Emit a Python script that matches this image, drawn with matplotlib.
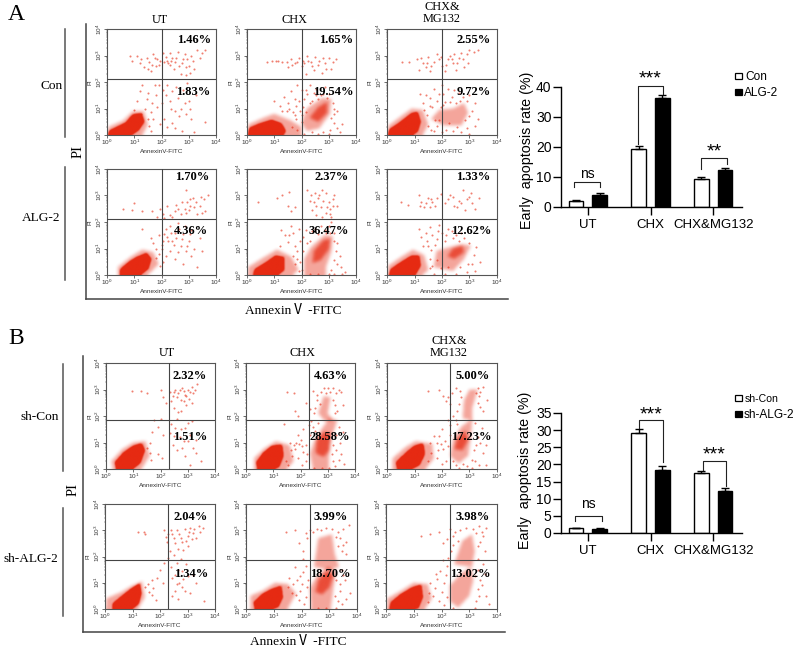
import numpy as np
import matplotlib
matplotlib.use("Agg")
import matplotlib.pyplot as plt
from matplotlib.colors import to_rgb
from matplotlib.lines import Line2D
from matplotlib.patches import Rectangle
from matplotlib.path import Path

plt.rcParams['mathtext.default'] = 'regular'
W, H = 798, 648
SERIF = ['Liberation Serif', 'Noto Sans CJK SC', 'DejaVu Sans']
SANS = ['Liberation Sans', 'DejaVu Sans']
RED = '#e62a12'

# bar chart values
groups = ['UT', 'CHX', 'CHX&MG132']
a_con = [2.0, 19.5, 9.4]
a_con_err = [0.4, 0.7, 0.6]
a_alg = [4.0, 36.3, 12.4]
a_alg_err = [0.6, 1.0, 0.5]
b_con = [1.4, 29.3, 17.5]
b_con_err = [0.2, 0.9, 0.7]
b_alg = [1.3, 18.3, 12.3]
b_alg_err = [0.2, 1.1, 0.7]

# percent labels, per row: UR and LR of UT, CHX, CHX&MG132
a_con_pct = ['1.46%', '1.83%', '1.65%', '19.54%', '2.55%', '9.72%']
a_alg_pct = ['1.70%', '4.36%', '2.37%', '36.47%', '1.33%', '12.62%']
b_con_pct = ['2.32%', '1.51%', '4.63%', '28.58%', '5.00%', '17.23%']
b_sh_pct = ['2.04%', '1.34%', '3.99%', '18.70%', '3.98%', '13.02%']

# flow cytometry, all in decades (log10 of the axis value), estimated by eye
# core = outline of the solid red cloud, haze = outlines of the thinner clouds
a_con_ut_core = [(0.05,0),(0.1,0.15),(0.4,0.3),(0.7,0.45),(0.95,0.75),(1.25,0.8),(1.35,0.5),(1.15,0.2),(0.9,0.02)]
a_con_ut_haze = [(0.02,0),(0.05,0.3),(0.6,0.55),(0.95,0.9),(1.35,0.9),(1.5,0.4),(1.3,0)]
a_con_ut_dots = [(0.85,2.97),(0.9,2.8),(1.1,3.0),(1.2,2.7),(1.35,2.55),(1.45,2.9),(1.55,2.75),(1.6,2.4),(1.7,3.05),(1.8,2.6),(1.85,2.85),(1.95,2.8),(2.05,3.1),(2.1,2.75),(2.2,2.8),(2.25,2.7),(2.3,3.1),(2.35,2.8),(2.45,2.5),(2.55,2.9),(2.6,3.15),(2.7,2.3),(2.75,2.7),(2.85,3.05),(2.9,2.55),(3.0,2.6),(3.05,2.35),(3.15,2.8),(3.3,3.2),(3.4,2.9),(3.5,3.1),(3.6,3.2),(1.3,1.9),(1.5,1.6),(1.1,1.3),(1.0,0.95),(1.4,1.0),(1.6,0.85),(1.8,1.5),(1.9,1.9),(2.0,1.2),(2.05,1.7),(2.1,0.6),(2.2,1.9),(2.3,1.3),(2.4,1.65),(2.5,0.9),(2.6,1.4),(2.7,1.0),(2.8,1.7),(2.9,0.8),(3.0,1.3),(3.1,0.6),(2.2,0.3),(2.4,0.45),(3.2,0.1),(3.6,0.5),(1.55,0.35),(1.7,0.6),
                 (1.25,2.85),(1.5,2.5),(1.65,2.65),(1.75,2.9),(1.9,2.65),(2.15,2.95),(2.3,2.65),(2.4,2.9),(2.5,2.75),(2.65,2.6),(2.8,2.85),(2.95,2.85),(3.1,3.0),(3.2,2.5),(2.9,2.25),(1.2,1.65),(1.25,0.8),(1.45,1.35),(1.65,1.2),(1.75,1.9),(1.85,1.05),(2.15,1.5),(2.35,1.0),(2.55,1.8),(2.65,0.7),(2.85,1.2),(2.95,1.95),(3.05,1.0),(3.25,1.5),(1.5,0.6),(1.6,0.15),(1.95,0.4),(2.5,0.25),(2.75,0.15)]

a_con_chx_core = [(0.05,0),(0.1,0.25),(0.5,0.42),(0.9,0.55),(1.25,0.42),(1.4,0.15),(1.3,0)]
a_con_chx_haze = [(0.02,0),(0.05,0.4),(0.6,0.65),(1.0,0.8),(1.6,0.55),(2.0,0.3),(2.0,0)]
a_con_chx_haze2 = [(2.0,0.45),(2.2,1.0),(2.75,1.4),(3.1,1.35),(3.05,0.8),(2.65,0.25),(2.2,0.15)]
a_con_chx_haze3 = [(2.3,0.65),(2.6,1.05),(2.95,1.25),(2.95,0.85),(2.6,0.5)]
a_con_chx_dots = [(0.75,2.75),(0.9,2.8),(1.05,2.78),(1.3,2.75),(1.5,2.55),(1.6,2.85),(1.75,2.7),(1.9,2.9),(2.0,2.6),(2.05,2.8),(2.15,2.3),(2.2,3.0),(2.35,2.75),(2.45,2.45),(2.5,2.95),(2.65,2.8),(2.75,2.35),(2.85,2.7),(3.0,2.9),(3.1,2.5),(3.25,2.85),(1.2,1.1),(1.3,0.9),(1.5,1.2),(1.6,1.65),(1.7,0.85),(1.85,1.9),(1.9,1.3),(2.0,1.7),(2.05,1.05),(2.2,1.55),(2.3,1.9),(2.4,1.3),(2.55,1.75),(2.7,1.5),(2.85,1.8),(3.0,1.55),(3.15,1.2),(3.3,0.9),(3.2,0.45),(3.05,0.2),(3.4,0.1),(2.1,0.05),(2.6,0.05),(3.0,0.04),(1.8,0.6),(1.95,0.9),(2.15,0.85),(1.65,0.3),(3.5,0.4),(2.3,1.2),(2.55,1.5),(2.0,0.5),
                  (1.15,2.8),(1.45,2.75),(1.65,2.65),(1.85,2.75),(2.1,2.7),(2.25,2.8),(2.4,2.6),(2.6,2.65),(2.8,2.9),(2.9,2.5),(3.15,2.75),(1.0,1.3),(1.35,1.45),(1.45,0.9),(1.55,1.0),(1.75,1.35),(1.8,1.1),(2.1,1.35),(2.15,1.7),(2.45,1.6),(2.6,1.35),(2.8,1.55),(2.95,1.4),(3.2,0.8),(3.1,0.65),(2.4,0.1),(2.8,0.1),(3.3,0.25),(3.2,1.0),(1.85,0.2),(1.75,0.75),(2.0,0.75)]

a_con_mg_core = [(0.05,0),(0.1,0.2),(0.4,0.4),(0.65,0.6),(0.9,0.8),(1.1,0.85),(1.2,0.5),(1.1,0.15),(0.9,0)]
a_con_mg_haze = [(0.02,0),(0.05,0.35),(0.5,0.7),(0.9,1.0),(1.3,0.95),(1.5,0.4),(1.3,0)]
a_con_mg_haze2 = [(1.6,0.6),(1.9,0.95),(2.4,1.0),(2.8,1.2),(2.95,0.85),(2.7,0.35),(2.1,0.35)]
a_con_mg_dots = [(0.55,2.75),(0.8,2.75),(1.1,2.85),(1.15,2.45),(1.3,2.7),(1.4,2.55),(1.5,2.95),(1.55,2.4),(1.7,2.75),(1.8,3.05),(1.9,2.85),(2.0,2.6),(2.1,2.4),(2.2,2.85),(2.3,3.0),(2.4,2.7),(2.5,2.45),(2.6,2.9),(2.7,3.1),(2.8,2.55),(2.9,3.05),(3.0,3.2),(3.15,3.15),(3.3,3.2),(1.3,1.2),(1.4,1.5),(1.55,1.1),(1.7,1.75),(1.8,1.3),(1.95,1.05),(2.0,1.9),(2.05,1.55),(2.1,1.25),(2.2,1.75),(2.35,1.45),(2.5,1.2),(2.6,1.6),(2.75,1.45),(3.0,1.5),(3.1,0.9),(3.2,1.2),(2.9,0.25),(3.3,0.6),(1.6,0.2),(1.8,0.35),(2.0,0.1),(2.4,0.15),(2.7,0.1),(3.0,0.05),(1.45,0.75),(1.75,0.55),(2.15,0.2),
                 (1.25,2.9),(1.45,2.7),(1.6,2.6),(1.95,2.95),(2.15,2.65),(2.35,2.85),(2.55,2.7),(2.75,2.85),(2.95,2.7),(2.45,3.05),(1.2,1.55),(1.55,1.4),(1.65,1.05),(1.9,1.55),(2.05,1.15),(2.3,1.25),(2.45,1.7),(2.65,1.3),(2.9,1.3),(1.35,0.95),(1.5,0.35),(1.7,0.15),(1.9,0.55),(2.25,0.45),(2.55,0.3),(2.85,0.55),(3.0,0.7),(3.2,0.35)]

a_alg_ut_core = [(0.5,0),(0.5,0.2),(0.85,0.5),(1.1,0.65),(1.45,0.8),(1.6,0.6),(1.5,0.25),(1.2,0)]
a_alg_ut_haze = [(0.4,0),(0.4,0.3),(0.9,0.7),(1.3,0.95),(1.7,0.85),(1.9,0.4),(1.5,0)]
a_alg_ut_dots = [(0.6,2.5),(0.9,2.45),(1.0,2.7),(1.3,2.4),(1.65,2.4),(1.85,2.2),(1.95,2.5),(2.05,2.3),(2.2,2.6),(2.3,2.25),(2.5,2.4),(2.55,2.65),(2.7,2.3),(2.85,2.5),(2.95,2.75),(3.0,2.45),(3.05,2.6),(3.15,2.9),(3.3,2.3),(3.4,2.6),(3.55,2.85),(3.7,3.0),(3.6,2.4),(2.9,3.2),(1.7,1.2),(1.8,1.0),(1.9,1.5),(2.0,1.15),(2.05,1.3),(2.15,1.75),(2.2,1.45),(2.3,1.85),(2.4,1.3),(2.5,1.6),(2.6,1.95),(2.7,1.1),(2.8,1.55),(2.9,0.9),(3.0,1.3),(3.1,1.7),(3.2,1.0),(3.4,1.4),(2.3,0.9),(2.5,0.6),(3.3,0.3),(1.9,0.8),(2.05,0.5),(1.6,1.4),(1.3,1.75),
                 (2.1,2.15),(2.4,2.2),(2.6,2.5),(2.75,2.75),(2.9,2.35),(3.05,2.85),(3.2,2.55),(3.25,2.75),(3.45,2.95),(3.5,2.35),(2.0,1.0),(2.1,1.55),(2.25,1.3),(2.35,1.6),(2.45,1.15),(2.55,1.4),(2.65,1.75),(2.75,1.35),(2.85,1.85),(2.95,1.1),(3.05,1.55),(2.6,0.85),(2.8,0.4),(3.1,0.7),(3.5,0.9),(2.15,0.7),(1.8,0.65),(1.95,0.35)]

a_alg_chx_core = [(0.25,0),(0.3,0.2),(0.7,0.45),(1.05,0.7),(1.35,0.65),(1.35,0.2),(1.1,0)]
a_alg_chx_haze = [(0.02,0),(0.05,0.3),(0.6,0.65),(1.1,0.95),(1.6,0.7),(1.9,0.2),(1.7,0)]
a_alg_chx_haze2 = [(2.1,0),(2.1,0.6),(2.35,1.05),(2.85,1.5),(3.15,1.45),(3.1,0.9),(2.9,0.3),(2.9,0)]
a_alg_chx_haze3 = [(2.4,0.45),(2.45,0.9),(2.8,1.3),(3.05,1.35),(3.0,0.95),(2.7,0.55)]
a_alg_chx_dots = [(0.4,2.75),(1.1,2.9),(1.3,3.0),(1.5,2.6),(1.55,3.15),(1.6,2.4),(1.75,2.55),(2.2,3.2),(2.3,2.8),(2.4,2.45),(2.5,3.1),(2.6,2.9),(2.7,2.55),(2.75,3.2),(2.9,2.35),(3.0,2.75),(3.05,2.5),(3.1,2.2),(3.2,3.0),(3.3,2.6),(3.15,2.85),(1.2,1.1),(1.4,1.5),(1.5,1.25),(1.6,1.85),(1.75,1.1),(1.85,0.9),(1.95,1.3),(2.15,1.7),(2.3,1.3),(2.5,1.75),(2.7,1.85),(2.85,1.7),(3.0,1.85),(3.1,2.0),(3.2,1.6),(3.3,1.2),(3.4,0.7),(3.1,0.2),(3.3,0.4),(3.6,0.1),(2.3,0.03),(2.6,0.04),(3.0,0.03),(3.2,0.05),(3.5,0.03),(1.95,0.5),(2.0,0.2),(1.85,0.6),
                  (2.35,3.0),(2.45,2.75),(2.55,2.6),(2.65,3.0),(2.8,2.8),(2.9,3.1),(2.95,2.55),(3.05,2.3),(3.15,2.6),(2.55,2.25),(2.75,2.2),(1.25,1.7),(1.55,1.5),(1.7,1.6),(1.9,1.75),(2.05,1.45),(2.2,1.2),(2.4,1.65),(2.6,1.55),(2.9,1.6),(3.05,1.6),(3.2,1.3),(3.25,0.9),(3.2,0.55),(3.45,0.3),(1.75,0.4),(1.9,0.15),(2.05,0.9),(1.7,0.7)]

a_alg_mg_core = [(0.1,0),(0.15,0.2),(0.5,0.45),(0.9,0.7),(1.15,0.7),(1.2,0.35),(1.0,0)]
a_alg_mg_haze = [(0.02,0),(0.05,0.35),(0.55,0.7),(0.95,0.95),(1.35,0.75),(1.5,0.2),(1.3,0)]
a_alg_mg_haze2 = [(1.7,0.3),(1.8,0.9),(2.3,1.05),(2.7,1.15),(3.05,1.1),(2.8,0.6),(2.4,0.15)]
a_alg_mg_haze3 = [(2.2,0.7),(2.4,1.0),(2.75,1.1),(2.8,0.85),(2.45,0.6)]
a_alg_mg_dots = [(0.5,2.75),(0.75,2.65),(1.15,3.0),(1.2,2.6),(1.4,2.7),(1.5,2.9),(1.55,2.55),(1.65,2.75),(1.8,2.9),(1.95,3.05),(2.1,2.7),(2.3,3.0),(2.45,2.6),(2.6,2.8),(2.75,3.2),(2.85,2.45),(3.0,2.95),(3.1,2.7),(3.2,2.5),(3.35,2.9),(1.15,1.75),(1.25,1.45),(1.3,1.1),(1.45,1.3),(1.55,1.8),(1.65,1.5),(1.8,1.35),(1.9,1.9),(2.0,1.6),(2.1,1.3),(2.2,1.75),(2.4,1.4),(2.6,1.3),(2.8,1.4),(3.0,1.2),(3.25,1.05),(3.1,0.4),(3.2,0.15),(1.55,0.25),(1.7,0.05),(2.1,0.04),(2.5,0.05),(2.9,0.1),(3.4,0.5),(1.55,0.6),(1.6,0.95),
                 (1.25,2.75),(1.35,2.55),(1.6,2.85),(1.75,2.6),(2.2,2.85),(2.4,2.95),(2.55,2.55),(2.7,2.7),(2.9,2.85),(3.05,3.1),(1.4,1.6),(1.5,1.1),(1.75,1.15),(1.85,1.65),(2.15,1.5),(2.35,1.65),(2.5,1.5),(2.7,1.6),(1.65,0.35),(1.8,0.55),(1.95,0.25),(2.2,0.3),(2.65,0.3),(2.95,0.4),(3.15,0.75)]

b_con_ut_core = [(0.4,0),(0.35,0.25),(0.65,0.6),(1.0,0.85),(1.3,0.95),(1.4,0.7),(1.25,0.25),(0.95,0)]
b_con_ut_haze = [(0.25,0),(0.2,0.3),(0.6,0.75),(1.0,1.0),(1.45,1.05),(1.6,0.5),(1.3,0)]
b_con_ut_dots = [(0.95,2.95),(1.3,2.95),(1.5,2.85),(2.0,3.0),(2.1,2.7),(2.2,2.5),(2.35,2.9),(2.45,2.75),(2.55,3.0),(2.65,2.85),(2.75,2.6),(2.8,3.05),(2.9,2.8),(3.0,3.0),(3.05,2.65),(3.15,3.1),(3.2,2.85),(3.35,3.2),(2.5,2.3),(2.65,2.15),(2.95,2.4),(1.75,1.85),(1.9,1.6),(1.7,1.4),(1.6,1.0),(2.0,1.9),(2.1,1.3),(2.4,1.7),(2.5,1.25),(2.6,1.9),(2.75,1.5),(2.85,1.05),(3.0,1.75),(3.1,1.3),(3.2,0.8),(3.3,1.1),(2.6,0.7),(2.9,0.5),(3.5,0.3),(3.1,0.15),(1.9,0.55),(1.65,0.35),
                 (2.5,2.9),(2.6,2.7),(2.7,3.0),(2.85,2.95),(2.95,2.75),(3.1,2.9),(3.25,3.0),(2.4,2.55),(2.85,2.55),(3.15,2.5),(2.75,2.2),(2.55,1.55),(2.7,1.2),(2.9,1.55),(3.0,1.05),(2.35,1.35),(3.15,1.8),(2.8,0.8),(2.45,0.9),(3.3,0.6),(1.5,0.8),(1.6,0.6),(2.05,0.4)]

b_con_chx_core = [(0.45,0),(0.4,0.25),(0.65,0.6),(0.95,0.85),(1.3,0.9),(1.35,0.5),(1.2,0.1),(1.0,0)]
b_con_chx_haze = [(0.3,0),(0.3,0.4),(0.7,0.8),(1.1,1.05),(1.6,0.9),(1.75,0.3),(1.5,0)]
b_con_chx_haze2 = [(2.45,0),(2.35,0.6),(2.5,1.05),(2.8,1.55),(3.05,1.9),(3.35,1.85),(3.15,1.2),(3.05,0.5),(3.05,0)]
b_con_chx_haze3 = [(2.65,2.1),(2.85,2.75),(3.1,2.7),(3.0,2.1),(3.2,1.85),(2.9,1.8)]
b_con_chx_haze4 = [(2.55,0.6),(2.6,1.1),(2.85,1.4),(3.1,1.35),(3.05,0.7),(2.85,0.45)]
b_con_chx_dots = [(1.5,2.9),(1.75,2.85),(1.8,2.2),(1.9,2.0),(2.2,2.5),(2.35,2.25),(2.45,2.95),(2.55,2.3),(2.6,2.8),(2.7,2.45),(3.0,3.05),(3.2,2.6),(3.3,2.85),(3.4,3.0),(3.5,2.9),(3.55,2.4),(3.35,2.2),(1.6,1.0),(1.75,0.9),(1.85,1.0),(1.95,0.95),(2.05,0.85),(2.2,0.9),(2.0,1.1),(1.7,0.5),(1.9,0.4),(2.1,1.5),(2.3,1.65),(2.2,0.3),(2.35,1.3),(3.2,0.3),(3.3,0.7),(3.45,1.0),(3.6,0.2),(3.55,1.4),(3.4,1.6),(3.25,0.1),(3.5,0.55),(2.5,0.03),(2.8,0.05),(3.05,0.04),(1.4,1.7),(2.4,1.8),(1.55,0.15),(1.45,0.3),
                  (2.75,2.9),(2.85,3.05),(2.95,2.85),(3.1,2.9),(3.25,2.4),(3.2,3.05),(2.6,2.6),(2.5,2.1),(3.25,2.1),(2.45,1.6),(2.55,1.45),(2.65,1.75),(3.3,1.3),(3.2,0.9),(3.4,0.35),(3.15,0.55),(1.8,0.75),(1.65,0.7),(2.1,0.65),(2.25,0.55),(1.9,1.3),(2.05,0.15)]

b_con_mg_core = [(0.4,0),(0.35,0.25),(0.7,0.6),(1.0,0.85),(1.3,0.95),(1.35,0.55),(1.15,0.15),(0.85,0)]
b_con_mg_haze = [(0.2,0),(0.2,0.4),(0.7,0.85),(1.05,1.05),(1.65,0.95),(1.7,0.4),(1.4,0)]
b_con_mg_haze2 = [(2.3,0.5),(2.4,1.1),(2.7,1.6),(3.1,1.9),(3.05,1.2),(2.95,0.5),(2.6,0.2)]
b_con_mg_haze3 = [(2.75,1.9),(2.8,2.6),(3.0,3.0),(3.3,3.0),(3.1,2.3),(3.1,1.85)]
b_con_mg_haze4 = [(2.45,0.75),(2.55,1.15),(2.85,1.45),(2.95,1.1),(2.75,0.7)]
b_con_mg_dots = [(1.5,2.95),(1.9,3.0),(2.05,2.75),(2.15,2.55),(2.2,2.7),(2.3,2.45),(2.5,3.05),(2.55,2.2),(2.7,2.7),(3.4,2.9),(3.5,3.1),(3.3,2.5),(3.5,2.2),(3.65,2.6),(2.4,2.0),(2.2,1.85),(2.0,1.5),(1.7,1.25),(1.8,1.0),(1.95,0.95),(2.1,1.05),(2.2,0.85),(1.55,1.0),(1.6,0.6),(1.8,0.4),(2.0,0.2),(2.15,0.3),(2.3,1.3),(3.2,0.3),(3.15,0.7),(3.3,1.2),(3.45,1.55),(3.2,1.75),(3.5,0.6),(2.6,0.05),(2.9,0.1),(3.1,0.05),(3.6,0.15),(3.35,0.15),(1.5,0.3),
                 (2.35,2.85),(2.6,2.45),(2.65,2.95),(3.35,2.75),(3.4,2.35),(3.25,2.85),(3.3,3.05),(2.5,1.85),(2.3,1.65),(2.55,1.7),(2.4,0.3),(2.5,0.15),(2.75,0.2),(3.1,0.35),(3.25,0.9),(3.4,1.0),(1.85,0.7),(2.05,0.75),(1.9,1.25),(3.6,0.9)]

b_sh_ut_core = [(0.3,0),(0.3,0.2),(0.65,0.5),(0.95,0.75),(1.25,0.95),(1.3,0.6),(1.2,0.2),(0.95,0)]
b_sh_ut_haze = [(0.02,0),(0.05,0.4),(0.6,0.65),(1.0,0.9),(1.35,1.05),(1.45,0.45),(1.2,0)]
b_sh_ut_dots = [(1.2,2.95),(1.4,2.95),(1.45,2.85),(2.15,3.0),(2.2,2.75),(2.25,2.55),(2.3,2.85),(2.4,3.0),(2.5,2.7),(2.6,3.0),(2.7,2.85),(2.8,2.55),(2.9,3.05),(3.0,2.8),(3.1,3.1),(3.2,2.9),(3.3,2.7),(3.4,3.15),(3.55,3.1),(2.65,2.3),(2.85,2.25),(3.0,2.4),(2.3,1.95),(2.15,1.75),(2.0,1.5),(1.9,1.2),(1.7,1.1),(1.55,0.95),(1.45,0.85),(2.1,1.0),(2.4,1.6),(2.55,1.3),(2.6,1.75),(2.7,1.0),(2.8,1.45),(2.9,0.7),(3.0,1.25),(2.55,0.7),(2.65,0.4),(3.1,0.6),(3.3,1.0),(3.6,0.3),(1.7,0.55),(1.85,0.35),
                (2.45,2.85),(2.55,2.5),(2.75,2.7),(2.95,2.6),(3.05,2.95),(3.15,2.65),(3.25,3.05),(3.45,2.95),(2.35,2.2),(2.5,2.05),(2.75,1.9),(2.95,1.7),(2.45,1.2),(2.65,1.5),(2.85,1.15),(2.6,0.95),(2.45,0.5),(2.8,0.85),(1.75,0.8),(1.6,0.65),(3.2,1.3)]

b_sh_chx_core = [(0.35,0),(0.3,0.25),(0.6,0.55),(0.95,0.75),(1.25,0.85),(1.3,0.45),(1.15,0.1),(0.9,0)]
b_sh_chx_haze = [(0.15,0),(0.15,0.5),(0.6,0.7),(1.05,1.0),(1.5,0.95),(1.8,0.6),(1.5,0)]
b_sh_chx_haze2 = [(2.35,0),(2.3,0.8),(2.55,1.25),(2.95,1.6),(3.25,1.45),(3.15,0.8),(3.05,0)]
b_sh_chx_haze3 = [(2.45,1.6),(2.6,2.7),(3.1,2.85),(3.2,2.1),(3.35,1.6),(3.0,1.5)]
b_sh_chx_haze4 = [(2.5,0.65),(2.6,1.1),(2.9,1.45),(3.15,1.3),(3.0,0.8),(2.75,0.55)]
b_sh_chx_dots = [(1.45,2.95),(1.75,3.0),(1.9,2.5),(2.05,2.2),(2.2,2.7),(2.15,2.9),(2.3,3.0),(3.3,2.95),(3.4,2.7),(3.5,3.05),(3.6,2.55),(3.7,3.2),(3.45,2.2),(3.6,2.1),(1.55,1.2),(1.7,0.95),(1.85,1.1),(1.95,0.7),(2.05,1.4),(2.15,1.65),(2.25,1.1),(1.65,0.6),(1.9,0.35),(2.1,0.2),(3.3,0.3),(3.4,0.7),(3.55,1.1),(3.6,0.4),(3.75,0.6),(3.45,1.5),(3.25,0.05),(2.6,0.04),(2.9,0.03),(2.05,1.9),(1.75,1.6),
                 (2.4,2.95),(2.55,3.05),(2.7,3.0),(2.9,3.1),(3.1,3.05),(3.25,2.75),(3.3,2.4),(3.5,2.45),(1.95,1.25),(2.2,0.85),(2.15,0.45),(1.8,0.55),(1.5,0.85),(2.0,0.95),(3.25,1.1),(3.4,0.95),(3.2,0.5),(3.45,0.2),(3.5,1.3)]

b_sh_mg_core = [(0.15,0),(0.2,0.25),(0.55,0.55),(0.95,0.8),(1.25,0.9),(1.3,0.45),(1.15,0.05),(0.95,0)]
b_sh_mg_haze = [(0.02,0),(0.05,0.4),(0.55,0.7),(1.0,1.0),(1.5,0.95),(1.65,0.4),(1.4,0)]
b_sh_mg_haze2 = [(2.3,0.3),(2.3,0.9),(2.7,1.35),(3.05,1.6),(3.15,1.1),(3.0,0.5),(2.6,0.05)]
b_sh_mg_haze3 = [(2.45,1.7),(2.75,2.6),(3.1,2.85),(3.2,2.2),(3.1,1.6)]
b_sh_mg_dots = [(1.25,2.8),(1.6,2.85),(1.9,2.95),(2.05,2.5),(2.2,2.65),(2.3,3.05),(2.35,2.2),(2.5,2.95),(2.6,2.6),(3.25,2.9),(3.35,3.15),(3.4,2.55),(3.5,2.8),(3.6,3.1),(3.55,2.2),(1.6,1.0),(1.75,0.8),(1.85,1.15),(1.95,1.45),(2.1,1.0),(2.2,1.65),(2.05,1.85),(1.7,0.5),(1.9,0.3),(2.1,0.15),(3.25,0.3),(3.3,0.75),(3.4,1.1),(3.55,1.35),(3.6,0.5),(3.5,1.7),(3.3,1.9),(2.4,0.03),(3.2,0.05),(1.5,0.25),
                (2.4,2.8),(2.65,3.0),(2.4,2.45),(2.9,3.1),(3.15,3.05),(3.3,2.4),(3.45,2.95),(2.25,1.95),(2.15,1.3),(1.8,1.35),(2.0,0.65),(2.2,0.45),(1.55,0.6),(3.35,0.5),(3.2,1.25),(3.45,0.9),(3.3,1.5),(3.7,0.2)]


def fx(x):
    return x / W


def fy(y):
    return 1 - y / H


def make_ax(x0, y0, x1, y1):
    # rectangle given in picture pixels
    return fig.add_axes([fx(x0), fy(y1), (x1 - x0) / W, (y1 - y0) / H])


GRID = 200
centres = (np.arange(GRID) + 0.5) * 4 / GRID
gx, gy = np.meshgrid(centres, centres)
grid_pts = np.column_stack([gx.ravel(), gy.ravel()])


def blurred_mask(pts, r):
    # polygon outline to a soft 0..1 mask, box blur run twice along each axis
    m = Path(pts + [pts[0]]).contains_points(grid_pts).reshape(GRID, GRID).astype(float)
    n = 2 * r + 1
    kernel = np.ones(n) / n
    m = np.pad(m, 2 * n, mode='edge')
    for axis in (0, 1):
        for _ in range(2):
            m = np.apply_along_axis(lambda v: np.convolve(v, kernel, mode='same'), axis, m)
    return m[2 * n:-2 * n, 2 * n:-2 * n]


def draw_facs(box, core, hazes, dots, vline, hline):
    ax = make_ax(*box)
    density = np.zeros((GRID, GRID))
    for h in hazes:
        density += 0.42 * blurred_mask(h, 3)
    density += 1.6 * blurred_mask(core, 2)
    rgba = np.zeros((GRID, GRID, 4))
    rgba[..., :3] = to_rgb(RED)
    rgba[..., 3] = np.clip(density, 0, 1)
    ax.imshow(rgba, extent=(0, 4, 0, 4), origin='lower', aspect='auto', interpolation='bilinear', zorder=1)
    ax.set_xlim(0, 4)
    ax.set_ylim(0, 4)
    xs = [p[0] for p in dots]
    ys = [p[1] for p in dots]
    ax.scatter(xs, ys, s=2.2, c=RED, alpha=0.6, linewidths=0, zorder=2)
    ax.axvline(vline, color='#444444', lw=0.8, zorder=3)
    ax.axhline(hline, color='#444444', lw=0.8, zorder=3)

    major = [0, 1, 2, 3, 4]
    minor = [d + np.log10(m) for d in range(4) for m in range(2, 10)]
    ax.set_xticks(major)
    ax.set_yticks(major)
    ax.set_xticks(minor, minor=True)
    ax.set_yticks(minor, minor=True)
    labels = ['$10^{%d}$' % d for d in major]
    ax.set_xticklabels(labels, fontsize=4.6, family=SANS, color='#333333')
    ax.set_yticklabels(labels, fontsize=4.6, family=SANS, color='#333333', rotation=90, va='center')
    ax.tick_params(which='major', length=2, width=0.5, pad=0.3, color='#333333')
    ax.tick_params(which='minor', length=1, width=0.3, color='#333333')
    for s in ax.spines.values():
        s.set_linewidth(0.8)
        s.set_color('#555555')
    fig.text(fx((box[0] + box[2]) / 2), fy(box[3] + 16.5), 'AnnexinV-FITC', fontsize=4.6,
             family=SANS, ha='center', va='center', color='#333333')
    fig.text(fx(box[0] - 16.5), fy((box[1] + box[3]) / 2), 'PI', fontsize=4.3, family=SANS,
             rotation=90, ha='center', va='center', color='#333333')
    return ax


def serif(x, y, s, size=9, **kw):
    kw.setdefault('ha', 'center')
    fig.text(fx(x), fy(y), s, fontsize=size, family=SERIF, va='center', **kw)


def vbar_line(x, y0, y1, color='#555555', lw=1.1):
    fig.add_artist(Line2D([fx(x), fx(x)], [fy(y0), fy(y1)], color=color, lw=lw))


def hbar_line(x0, x1, y, color='#555555', lw=1.1):
    fig.add_artist(Line2D([fx(x0), fx(x1)], [fy(y), fy(y)], color=color, lw=lw))


def draw_bars(box, ylim, yticks, con, con_err, alg, alg_err, brackets):
    ax = make_ax(*box)
    ax.patch.set_alpha(0)
    x = np.arange(3)
    off = 0.19
    bw = 0.235
    ax.bar(x - off, con, bw, color='white', edgecolor='black', linewidth=1.0,
           yerr=[np.zeros(3), con_err], error_kw=dict(ecolor='black', elinewidth=1, capsize=2.6, capthick=1))
    ax.bar(x + off, alg, bw, color='black', edgecolor='black', linewidth=1.0,
           yerr=[np.zeros(3), alg_err], error_kw=dict(ecolor='black', elinewidth=1, capsize=2.6, capthick=1))
    ax.set_xlim(-0.43, 2.46)
    ax.set_ylim(0, ylim)
    ax.set_xticks(x)
    ax.set_xticklabels(groups, fontsize=9.5, family=SANS)
    ax.set_yticks(yticks)
    ax.tick_params(axis='y', labelsize=10, length=5.8, width=1, pad=1)
    ax.tick_params(axis='x', length=5.8, width=1, pad=3)
    for lab in ax.get_yticklabels():
        lab.set_family(SANS)
    ax.spines['top'].set_visible(False)
    ax.spines['right'].set_visible(False)
    ax.spines['left'].set_linewidth(1)
    ax.spines['bottom'].set_linewidth(1)
    for (xl, xr, top, yl, yr, mark, ym) in brackets:
        ax.plot([xl, xl, xr, xr], [yl, top, top, yr], color='#222222', lw=0.8, clip_on=False)
        size = 10 if mark == 'ns' else 14
        ax.text((xl + xr) / 2, ym, mark, fontsize=size, family=SANS, ha='center', va='center', clip_on=False)
    return ax


def legend_row(x, y, s, black, size=8.6):
    fig.add_artist(Rectangle((fx(x - 3), fy(y + 3)), 6.5 / W, 6.5 / H, transform=fig.transFigure,
                             fc='black' if black else 'white', ec='black', lw=0.9))
    fig.text(fx(x + 7 if not black else x + 6), fy(y + 1), s, fontsize=size, family=SANS, va='center')


fig = plt.figure(figsize=(W / 100, H / 100), dpi=100, facecolor='white')

rows = [
    ((107, 29, 216, 135), (247, 29, 356, 135), (387, 29, 497, 135), 2.0, 2.1,
     [(a_con_ut_core, [a_con_ut_haze], a_con_ut_dots),
      (a_con_chx_core, [a_con_chx_haze, a_con_chx_haze2, a_con_chx_haze3], a_con_chx_dots),
      (a_con_mg_core, [a_con_mg_haze, a_con_mg_haze2], a_con_mg_dots)]),
    ((107, 169, 216, 275), (247, 169, 356, 275), (387, 169, 497, 275), 2.0, 2.12,
     [(a_alg_ut_core, [a_alg_ut_haze], a_alg_ut_dots),
      (a_alg_chx_core, [a_alg_chx_haze, a_alg_chx_haze2, a_alg_chx_haze3], a_alg_chx_dots),
      (a_alg_mg_core, [a_alg_mg_haze, a_alg_mg_haze2, a_alg_mg_haze3], a_alg_mg_dots)]),
    ((106, 363, 215, 469), (246, 363, 355, 469), (387, 363, 497, 469), 2.3, 1.85,
     [(b_con_ut_core, [b_con_ut_haze], b_con_ut_dots),
      (b_con_chx_core, [b_con_chx_haze, b_con_chx_haze2, b_con_chx_haze3, b_con_chx_haze4], b_con_chx_dots),
      (b_con_mg_core, [b_con_mg_haze, b_con_mg_haze2, b_con_mg_haze3, b_con_mg_haze4], b_con_mg_dots)]),
    ((105, 504, 215, 609), (246, 504, 357, 609), (386, 504, 497, 609), 2.3, 1.85,
     [(b_sh_ut_core, [b_sh_ut_haze], b_sh_ut_dots),
      (b_sh_chx_core, [b_sh_chx_haze, b_sh_chx_haze2, b_sh_chx_haze3, b_sh_chx_haze4], b_sh_chx_dots),
      (b_sh_mg_core, [b_sh_mg_haze, b_sh_mg_haze2, b_sh_mg_haze3], b_sh_mg_dots)]),
]
for r in rows:
    for box, (core, hazes, dots) in zip(r[:3], r[5]):
        draw_facs(box, core, hazes, dots, r[3], r[4])

# percent labels
pct_rows = [
    (a_con_pct, 40, 92, [194, 193, 336, 333, 474, 474]),
    (a_alg_pct, 177, 231, [192, 191, 332, 329, 473, 471]),
    (b_con_pct, 376, 437, [190, 190, 331, 330, 473, 471]),
    (b_sh_pct, 517, 574, [191, 191, 331, 330, 473, 470]),
]
for pcts, yu, yl, xs in pct_rows:
    for i, s in enumerate(pcts):
        serif(xs[i], yu if i % 2 == 0 else yl, s, size=9, weight='bold', zorder=10)

# titles and side labels
serif(160, 20, 'UT', 8.8)
serif(295, 20, 'CHX', 8.8)
serif(442, 7, 'CHX&', 8.8)
serif(442, 19, 'MG132', 8.8)
serif(167, 353, 'UT', 8.8)
serif(302, 353, 'CHX', 8.8)
serif(449, 341, 'CHX&', 8.8)
serif(449, 353, 'MG132', 8.8)
serif(16.5, 15, 'A', 17)
serif(16.5, 339, 'B', 17)
serif(63, 86, 'Con', 9.6, ha='right')
serif(60, 218, 'ALG-2', 9.6, ha='right')
serif(59, 417, 'sh-Con', 9.6, ha='right')
serif(58, 559, 'sh-ALG-2', 9.6, ha='right')
serif(78, 151, 'PI', 10.5, rotation=90)
serif(73, 490, 'PI', 10.5, rotation=90)
serif(293, 311, 'Annexin\u2164 -FITC', 9.6)
serif(298, 642, 'Annexin\u2164 -FITC', 9.6)

vbar_line(64.5, 29, 137)
vbar_line(64.5, 167, 280)
vbar_line(62.5, 364, 471)
vbar_line(62.5, 508, 616)
vbar_line(86, 24, 299, color='#444444')
hbar_line(86, 508, 299, color='#444444')
vbar_line(83, 356, 632, color='#444444')
hbar_line(83, 505, 632, color='#444444')

# bar charts
a_brackets = [(-0.22, 0.20, 8.2, 6.8, 6.8, 'ns', 11),
              (0.795, 1.195, 40.3, 21, 37.8, '***', 42.8),
              (1.81, 2.22, 16.5, 12.8, 14.5, '**', 18.3)]
b_brackets = [(-0.20, 0.22, 5.0, 3.6, 3.6, 'ns', 8.5),
              (0.81, 1.20, 33, 30.5, 20.8, '***', 34.4),
              (1.83, 2.20, 20.9, 18.4, 13.7, '***', 22.8)]
draw_bars((561, 87, 742, 207), 40, [0, 10, 20, 30, 40], a_con, a_con_err, a_alg, a_alg_err, a_brackets)
draw_bars((561, 413, 742, 533), 35, [0, 5, 10, 15, 20, 25, 30, 35], b_con, b_con_err, b_alg, b_alg_err, b_brackets)
fig.text(fx(527), fy(150), 'Early  apoptosis rate (%)', rotation=90, fontsize=10.3, family=SANS, ha='center', va='center')
fig.text(fx(525), fy(470), 'Early  apoptosis rate (%)', rotation=90, fontsize=10.3, family=SANS, ha='center', va='center')

legend_row(738, 76, 'Con', False)
legend_row(738, 92, 'ALG-2', True)
legend_row(738, 398, 'sh-Con', False, size=7.6)
legend_row(738, 414, 'sh-ALG-2', True)

fig.savefig('out.png', dpi=100)
